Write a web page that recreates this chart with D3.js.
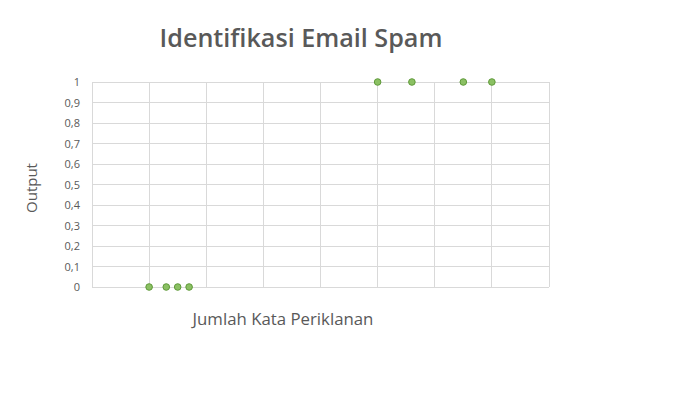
<!DOCTYPE html>
<html><head><meta charset="utf-8">
<script src="https://cdn.jsdelivr.net/npm/d3@7"></script>
<style>body{margin:0;background:#fff}svg{display:block}</style>
</head><body>
<script>
const title = "Identifikasi Email Spam";
const xTitle = "Jumlah Kata Periklanan";
const yTitle = "Output";
const xValues = [1, 1.3, 1.5, 1.7, 5, 5.6, 6.5, 7];
const yValues = [0, 0, 0, 0, 1, 1, 1, 1];
const yTicks = [0, 0.1, 0.2, 0.3, 0.4, 0.5, 0.6, 0.7, 0.8, 0.9, 1];
const xGrid = [0, 1, 2, 3, 4, 5, 6, 7, 8];

const W = 682, H = 413;
const svg = d3.select("body").append("svg").attr("width", W).attr("height", H);
const font = "'Open Sans', sans-serif";
const m = {left: 92, right: 549, top: 82, bottom: 287};
const x = d3.scaleLinear().domain([0, 8]).range([m.left, m.right]);
const y = d3.scaleLinear().domain([0, 1]).range([m.bottom, m.top]);

function fit(sel, target) {
  const w = sel.node().getComputedTextLength();
  const fs = parseFloat(sel.attr("font-size"));
  sel.attr("font-size", fs * target / w);
}

// gridlines
svg.append("g").selectAll("line").data(yTicks).join("line")
  .attr("x1", m.left).attr("x2", m.right)
  .attr("y1", d => y(d)).attr("y2", d => y(d))
  .attr("stroke", "#d9d9d9").attr("stroke-width", 1).attr("shape-rendering", "crispEdges");
svg.append("g").selectAll("line").data(xGrid).join("line")
  .attr("x1", d => x(d)).attr("x2", d => x(d))
  .attr("y1", m.top).attr("y2", m.bottom)
  .attr("stroke", "#d9d9d9").attr("stroke-width", 1).attr("shape-rendering", "crispEdges");

// y axis labels
const yAxis = d3.axisLeft(y).tickValues(yTicks).tickSize(0).tickPadding(12)
  .tickFormat(d => String(d).replace(".", ","));
const gy = svg.append("g").attr("transform", `translate(${m.left},0)`).call(yAxis);
gy.select(".domain").remove();
gy.selectAll("text").attr("font-family", font).attr("font-size", 11).attr("fill", "#595959");

// points
svg.append("g").selectAll("circle").data(xValues).join("circle")
  .attr("cx", d => x(d)).attr("cy", (d, i) => y(yValues[i]))
  .attr("r", 3.3).attr("fill", "#8bc063").attr("stroke", "#5f9a3a").attr("stroke-width", 1);

// titles
const t = svg.append("text").text(title).attr("x", 301).attr("y", 47)
  .attr("text-anchor", "middle").attr("font-family", font).attr("font-weight", 600)
  .attr("font-size", 24).attr("fill", "#595959");
fit(t, 283);
const xt = svg.append("text").text(xTitle).attr("x", 283).attr("y", 325)
  .attr("text-anchor", "middle").attr("font-family", font)
  .attr("font-size", 15).attr("fill", "#595959");
fit(xt, 181);
const yt = svg.append("text").text(yTitle)
  .attr("transform", "translate(37,188) rotate(-90)")
  .attr("text-anchor", "middle").attr("font-family", font)
  .attr("font-size", 13).attr("fill", "#595959");
fit(yt, 50);
</script>
</body></html>
